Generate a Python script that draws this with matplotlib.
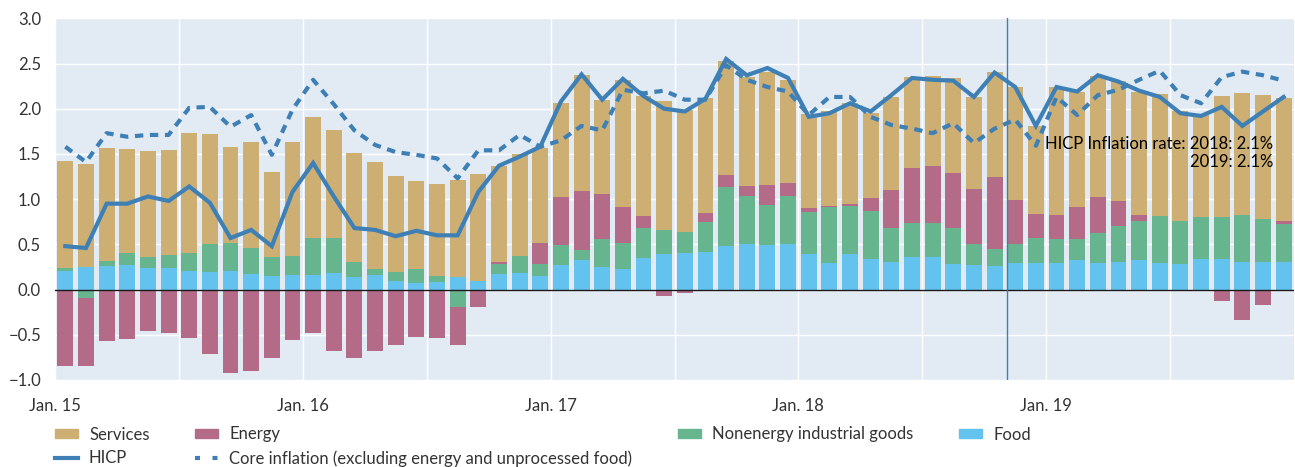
import numpy as np
import matplotlib
matplotlib.use("Agg")
import matplotlib.pyplot as plt
from matplotlib.patches import Patch
from matplotlib.lines import Line2D

plt.rcParams['font.family'] = ['Lato', 'DejaVu Sans']

# ---- data (percentage points / percent), monthly Jan 2015 .. Dec 2019 ----
tick_labels = ["Jan. 15", "Jan. 16", "Jan. 17", "Jan. 18", "Jan. 19"]

food = [0.21, 0.25, 0.26, 0.27, 0.24, 0.24, 0.21, 0.19, 0.21, 0.17, 0.15, 0.16,
        0.16, 0.18, 0.14, 0.16, 0.09, 0.07, 0.08, 0.14, 0.09, 0.17, 0.18, 0.15,
        0.27, 0.33, 0.25, 0.23, 0.35, 0.39, 0.40, 0.42, 0.48, 0.50, 0.49, 0.50,
        0.39, 0.29, 0.39, 0.34, 0.30, 0.36, 0.36, 0.28, 0.27, 0.26, 0.29, 0.29,
        0.29, 0.33, 0.29, 0.31, 0.33, 0.29, 0.28, 0.34, 0.34, 0.31, 0.31, 0.31]
nonenergy = [0.03, -0.09, 0.06, 0.13, 0.12, 0.14, 0.20, 0.31, 0.31, 0.29, 0.21, 0.21,
             0.41, 0.39, 0.16, 0.07, 0.10, 0.16, 0.07, -0.19, 0.00, 0.11, 0.19, 0.13,
             0.22, 0.11, 0.31, 0.29, 0.33, 0.27, 0.24, 0.33, 0.65, 0.54, 0.44, 0.54,
             0.47, 0.62, 0.53, 0.53, 0.38, 0.38, 0.38, 0.40, 0.23, 0.19, 0.21, 0.28,
             0.27, 0.23, 0.34, 0.39, 0.43, 0.52, 0.48, 0.46, 0.46, 0.51, 0.47, 0.42]
energy = [-0.84, -0.76, -0.57, -0.55, -0.46, -0.48, -0.54, -0.71, -0.92, -0.90, -0.76, -0.56,
          -0.48, -0.68, -0.76, -0.68, -0.61, -0.52, -0.53, -0.42, -0.19, 0.02, -0.02, 0.24,
          0.53, 0.65, 0.50, 0.39, 0.13, -0.07, -0.04, 0.10, 0.14, 0.10, 0.23, 0.14,
          0.04, 0.01, 0.03, 0.14, 0.42, 0.61, 0.63, 0.61, 0.61, 0.79, 0.49, 0.27,
          0.27, 0.35, 0.39, 0.28, 0.07, -0.02, 0.00, 0.00, -0.13, -0.34, -0.17, 0.03]
services = [1.18, 1.14, 1.25, 1.15, 1.17, 1.16, 1.32, 1.22, 1.06, 1.17, 0.94, 1.26,
            1.34, 1.19, 1.21, 1.18, 1.07, 0.97, 1.02, 1.07, 1.19, 1.07, 1.13, 1.05,
            1.04, 1.28, 1.04, 1.41, 1.33, 1.42, 1.35, 1.27, 1.26, 1.21, 1.25, 1.14,
            1.04, 1.06, 1.11, 0.94, 1.03, 1.00, 0.99, 1.05, 1.02, 1.17, 1.25, 0.97,
            1.41, 1.27, 1.34, 1.33, 1.36, 1.35, 1.21, 1.13, 1.34, 1.35, 1.37, 1.36]
hicp = [0.48, 0.46, 0.95, 0.95, 1.03, 0.98, 1.14, 0.96, 0.57, 0.66, 0.48, 1.08,
        1.40, 1.03, 0.68, 0.66, 0.59, 0.65, 0.60, 0.60, 1.08, 1.37, 1.47, 1.58,
        2.08, 2.38, 2.10, 2.33, 2.14, 2.00, 1.97, 2.11, 2.55, 2.37, 2.45, 2.34,
        1.91, 1.95, 2.06, 1.97, 2.15, 2.34, 2.32, 2.31, 2.13, 2.40, 2.24, 1.81,
        2.24, 2.19, 2.37, 2.30, 2.20, 2.13, 1.95, 1.92, 2.02, 1.81, 1.97, 2.13]
core = [1.58, 1.41, 1.73, 1.69, 1.71, 1.71, 2.01, 2.02, 1.80, 1.93, 1.49, 1.99,
        2.32, 2.05, 1.76, 1.60, 1.52, 1.49, 1.45, 1.23, 1.54, 1.54, 1.71, 1.58,
        1.65, 1.81, 1.76, 2.21, 2.17, 2.20, 2.10, 2.10, 2.48, 2.32, 2.24, 2.19,
        1.93, 2.13, 2.13, 1.91, 1.82, 1.78, 1.73, 1.84, 1.62, 1.78, 1.88, 1.59,
        2.13, 1.93, 2.15, 2.21, 2.32, 2.42, 2.15, 2.06, 2.35, 2.41, 2.37, 2.31]
annotation = "HICP Inflation rate: 2018: 2.1%\n2019: 2.1%"

# ---- styling ----
C_SERV = "#CDAF73"
C_ENER = "#B36B88"
C_NEIG = "#66B58F"
C_FOOD = "#63C3EE"
C_LINE = "#3E80B6"
BG = "#E2EBF4"
TXT = "#333333"

fig = plt.figure(figsize=(12.95, 4.67), dpi=100)
ax = fig.add_axes([55/1295, 1-380/467, 1239/1295, (380-18.3)/467])
ax.set_facecolor(BG)

n = len(food)
x = np.arange(n) + 0.5
width = 0.77

pos_base = np.zeros(n)
neg_base = np.zeros(n)
for vals, col in [(food, C_FOOD), (nonenergy, C_NEIG), (energy, C_ENER), (services, C_SERV)]:
    v = np.array(vals)
    base = np.where(v >= 0, pos_base, neg_base)
    ax.bar(x, v, width, bottom=base, color=col, linewidth=0, zorder=2)
    pos_base = pos_base + np.where(v >= 0, v, 0)
    neg_base = neg_base + np.where(v < 0, v, 0)

ax.plot(x, hicp, color=C_LINE, lw=3.0, solid_joinstyle='miter', zorder=4)
ax.plot(x, core, color=C_LINE, lw=3.0, dashes=(2.0, 1.6), dash_capstyle='butt', zorder=4)

ax.axhline(0, color='#1a1a1a', lw=1.0, zorder=3)
ax.axvline(46.1, color=C_LINE, lw=1.0, zorder=3)

ax.text(59.0, 1.51, annotation, ha='right', va='center', fontsize=12,
        color='black', linespacing=1.2, zorder=5)

ax.set_xlim(0, 60)
ax.set_ylim(-1.0, 3.0)
ax.set_xticks(np.arange(0, 60, 12))
ax.set_xticklabels(tick_labels)
ax.set_xticks(np.arange(6, 60, 12), minor=True)
ax.set_yticks(np.arange(-1.0, 3.01, 0.5))
ax.set_yticklabels([f"{v:.1f}".replace("-", "\u2212") for v in np.arange(-1.0, 3.01, 0.5)])
ax.tick_params(axis='both', which='both', length=0, labelsize=12, colors=TXT)
ax.tick_params(axis='y', pad=10)
ax.tick_params(axis='x', pad=13)
ax.grid(True, which='both', color='white', lw=1.0, zorder=0)
ax.set_axisbelow(True)
for s in ax.spines.values():
    s.set_visible(False)

handles = [
    Patch(color=C_SERV, label="Services"),
    Line2D([], [], color=C_LINE, lw=3.0, label="HICP"),
    Patch(color=C_ENER, label="Energy"),
    Line2D([], [], color=C_LINE, lw=3.0, dashes=(1.2, 3.0), label="Core inflation (excluding energy and unprocessed food)"),
    Patch(color=C_NEIG, label="Nonenergy industrial goods"),
    Patch(color=C_FOOD, label="Food"),
]
leg = fig.legend(handles=handles, ncol=4, loc='upper left',
                 bbox_to_anchor=(55/1295, 1-426.5/467), frameon=False,
                 fontsize=12, handlelength=1.38, handleheight=0.5,
                 handletextpad=0.66, labelspacing=0.45, columnspacing=2.75,
                 borderpad=0, borderaxespad=0)
for t in leg.get_texts():
    t.set_color(TXT)

fig.savefig("out.png", dpi=100)
